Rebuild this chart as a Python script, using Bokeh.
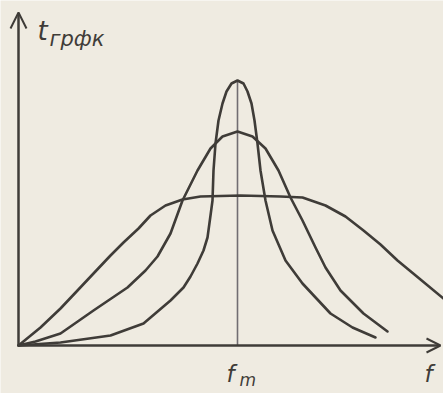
from bokeh.plotting import figure
from bokeh.models import Range1d, Label, Arrow, OpenHead
from bokeh.embed import file_html
from bokeh.resources import INLINE

# Group delay of the filter vs. frequency, three bandwidths (arbitrary units)
f_broad = [0.00, 0.22, 0.42, 0.59, 0.75, 0.92, 1.05, 1.20, 1.32, 1.47, 1.64, 1.82, 2.22, 2.62, 2.84, 3.07, 3.27, 3.45, 3.62, 3.79, 4.02, 4.25]
t_broad = [0.00, 0.18, 0.37, 0.55, 0.72, 0.90, 1.03, 1.17, 1.30, 1.40, 1.46, 1.49, 1.50, 1.49, 1.48, 1.40, 1.29, 1.15, 1.01, 0.85, 0.66, 0.47]

f_medium = [0.00, 0.17, 0.42, 0.75, 1.09, 1.27, 1.39, 1.52, 1.64, 1.79, 1.92, 2.04, 2.19, 2.34, 2.47, 2.60, 2.72, 2.84, 2.97, 3.07, 3.22, 3.45, 3.69]
t_medium = [0.00, 0.04, 0.12, 0.35, 0.58, 0.75, 0.89, 1.12, 1.45, 1.75, 1.97, 2.09, 2.14, 2.09, 1.97, 1.75, 1.48, 1.25, 0.98, 0.78, 0.55, 0.32, 0.14]

f_narrow = [0.00, 0.42, 0.92, 1.25, 1.52, 1.65, 1.72, 1.79, 1.85, 1.89, 1.92, 1.94, 1.95, 1.97, 2.00, 2.04, 2.08, 2.13, 2.19,
            2.25, 2.29, 2.33, 2.36, 2.39, 2.42, 2.47, 2.54, 2.67, 2.84, 3.12, 3.34, 3.57]
t_narrow = [0.00, 0.03, 0.10, 0.22, 0.45, 0.58, 0.69, 0.82, 0.95, 1.08, 1.30, 1.45, 1.75, 2.02, 2.25, 2.42, 2.54, 2.62, 2.65,
            2.62, 2.54, 2.42, 2.25, 2.02, 1.75, 1.45, 1.15, 0.85, 0.62, 0.32, 0.18, 0.08]

f_m = 2.19          # centre frequency
f_max = 4.22        # end of frequency axis
t_max = 3.33        # end of delay axis

paper = "#efebe1"
ink = "#3f3c38"

p = figure(width=443, height=393, output_backend="svg", toolbar_location=None,
           x_range=Range1d(-0.18, 4.25), y_range=Range1d(-0.48, 3.45),
           min_border=0, min_border_left=0, min_border_right=0,
           min_border_top=0, min_border_bottom=0)
p.axis.visible = False
p.grid.visible = False
p.outline_line_color = None
p.background_fill_color = paper
p.border_fill_color = paper

# axes with arrow heads
p.add_layout(Arrow(end=OpenHead(size=14, line_color=ink, line_width=2),
                   x_start=0, y_start=0, x_end=f_max, y_end=0,
                   line_color=ink, line_width=2.5))
p.add_layout(Arrow(end=OpenHead(size=16, line_color=ink, line_width=2),
                   x_start=0, y_start=0, x_end=0, y_end=t_max,
                   line_color=ink, line_width=2.5))

# marker of the centre frequency up to the narrow peak
p.segment(x0=[f_m], y0=[0], x1=[f_m], y1=[max(t_narrow)],
          line_color="#716d72", line_width=1.6)

for fx, ty in ((f_broad, t_broad), (f_medium, t_medium), (f_narrow, t_narrow)):
    p.line(fx, ty, line_color=ink, line_width=2.6, line_join="round", line_cap="round")

font = "DejaVu Sans"
def add_label(x, y, text, size):
    p.add_layout(Label(x=x, y=y, text=text, text_font=font, text_font_style="italic",
                       text_font_size=f"{size}px", text_color=ink,
                       text_baseline="alphabetic"))

add_label(0.19, 3.15, "t", 26)
add_label(0.31, 3.07, "грфк", 21)
add_label(2.08, -0.28, "f", 23)
add_label(2.21, -0.34, "m", 17)
add_label(4.06, -0.28, "f", 23)

open("out.html", "w").write(file_html(p, INLINE))
